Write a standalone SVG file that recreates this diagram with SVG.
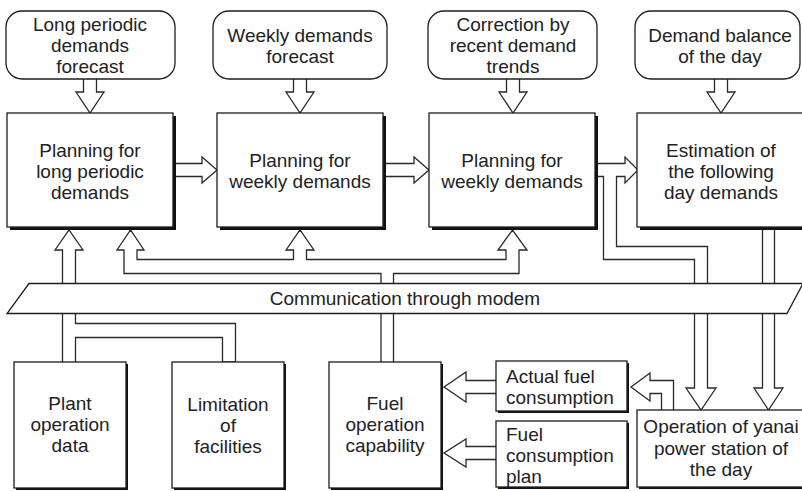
<svg xmlns="http://www.w3.org/2000/svg" width="802" height="491" viewBox="0 0 802 491">
<style>
.bg{fill:#ffffff}
.pipe{fill:#ffffff;stroke:#2a2a2a;stroke-width:1.3;stroke-linejoin:miter}
.box{fill:#ffffff;stroke:#1e1e1e;stroke-width:1.3}
.sh{fill:#111111}
.rbox{fill:#ffffff;stroke:#1e1e1e;stroke-width:1.3}
text{font-family:"Liberation Sans",Arial,sans-serif;font-size:19px;fill:#222222}
.c{text-anchor:middle}
</style>
<rect class="bg" x="0" y="0" width="802" height="491"/>

<g id="connectors">
  <!-- forecast arrows -->
  <path class="pipe" d="M83.5,79 V92 H76 L90,113 L104,92 H96.5 V79"/>
  <path class="pipe" d="M293.5,79 V92 H286 L300,113 L314,92 H306.5 V79"/>
  <path class="pipe" d="M506.5,79 V92 H499 L513,113 L527,92 H519.5 V79"/>
  <path class="pipe" d="M714.5,79 V92 H707 L721,113 L735,92 H727.5 V79"/>
  <!-- horizontal arrows between planning boxes -->
  <path class="pipe" d="M175,163.5 H202 V157 L217,170 L202,183 V176.5 H175"/>
  <path class="pipe" d="M386,163.5 H414 V157 L429,170 L414,183 V176.5 H386"/>
  <!-- box3 to box4 with branch down to operation -->
  <path class="pipe" d="M598,176.5 H603.5 V259.5 H694.5 V388 H686 L701,410 L716,388 H707.5 V246.5 H616.5 V176.5 H625 V183 L638,170 L625,157 V163.5 H598"/>
  <!-- box4 to operation -->
  <path class="pipe" d="M762.5,230 V388 H754 L768.5,410 L783,388 H774.5 V230"/>
  <!-- operation to actual fuel consumption -->
  <path class="pipe" d="M661.5,410 V393.5 H650 V401 L631,387 L650,373 V380.5 H673.5 V410"/>
  <!-- actual -> fuel -->
  <path class="pipe" d="M496,380.5 H466 V372 L444,387 L466,402 V393.5 H496"/>
  <!-- plan -> fuel -->
  <path class="pipe" d="M496,446.5 H466 V439 L444,453 L466,467 V459.5 H496"/>
  <!-- plant + limitation -> box1 -->
  <path class="pipe" d="M62.5,362 V250 H55 L69,230 L83,250 H75.5 V323.5 H235.5 V362 H222.5 V337.5 H75.5 V362"/>
  <!-- fuel capability -> boxes 1,2,3 -->
  <path class="pipe" d="M381,362 V273.5 H124 V250 H117 L130.5,230 L144,250 H137 V259.5 H293.5 V250 H286 L300,230 L314,250 H306.5 V259.5 H506 V250 H498 L512.5,230 L527,250 H519 V273.5 H393.5 V362"/>
</g>

<g id="modem">
  <polygon class="box" points="29,283.5 803,283.5 787,313.5 7,313.5"/>
  <text class="c" x="405" y="305">Communication through modem</text>
</g>

<g id="f1">
  <rect class="rbox" x="6" y="11" width="169" height="68" rx="16" ry="16"/>
  <text class="c" x="90" y="31">Long periodic</text>
  <text class="c" x="90" y="52">demands</text>
  <text class="c" x="90" y="73">forecast</text>
</g>
<g id="f2">
  <rect class="rbox" x="213" y="11" width="174" height="68" rx="16" ry="16"/>
  <text class="c" x="300" y="42">Weekly demands</text>
  <text class="c" x="300" y="63">forecast</text>
</g>
<g id="f3">
  <rect class="rbox" x="428" y="11" width="169" height="68" rx="16" ry="16"/>
  <text class="c" x="513" y="31">Correction by</text>
  <text class="c" x="513" y="52">recent demand</text>
  <text class="c" x="513" y="73">trends</text>
</g>
<g id="f4">
  <rect class="rbox" x="635" y="11" width="165" height="68" rx="16" ry="16"/>
  <text class="c" x="720" y="42">Demand balance</text>
  <text class="c" x="720" y="63">of the day</text>
</g>

<g id="b1">
  <rect class="sh" x="10" y="116" width="166" height="114"/>
  <rect class="box" x="7" y="113" width="166" height="114"/>
  <text class="c" x="90" y="157">Planning for</text>
  <text class="c" x="90" y="178">long periodic</text>
  <text class="c" x="90" y="199">demands</text>
</g>
<g id="b2">
  <rect class="sh" x="220" y="116" width="166" height="114"/>
  <rect class="box" x="217" y="113" width="166" height="114"/>
  <text class="c" x="300" y="167">Planning for</text>
  <text class="c" x="300" y="188">weekly demands</text>
</g>
<g id="b3">
  <rect class="sh" x="432" y="116" width="166" height="114"/>
  <rect class="box" x="429" y="113" width="166" height="114"/>
  <text class="c" x="512" y="167">Planning for</text>
  <text class="c" x="512" y="188">weekly demands</text>
</g>
<g id="b4">
  <rect class="sh" x="640" y="116" width="170" height="114"/>
  <rect class="box" x="637" y="113" width="170" height="114"/>
  <text class="c" x="721" y="157">Estimation of</text>
  <text class="c" x="721" y="178">the following</text>
  <text class="c" x="721" y="199">day demands</text>
</g>

<g id="plant">
  <rect class="sh" x="16" y="364" width="112" height="126"/>
  <rect class="box" x="14" y="362" width="112" height="126"/>
  <text class="c" x="70" y="410">Plant</text>
  <text class="c" x="70" y="431">operation</text>
  <text class="c" x="70" y="452">data</text>
</g>
<g id="limitation">
  <rect class="sh" x="174" y="364" width="112" height="126"/>
  <rect class="box" x="172" y="362" width="112" height="126"/>
  <text class="c" x="228" y="411">Limitation</text>
  <text class="c" x="228" y="432">of</text>
  <text class="c" x="228" y="453">facilities</text>
</g>
<g id="fuel">
  <rect class="sh" x="331" y="364" width="112" height="126"/>
  <rect class="box" x="329" y="362" width="112" height="126"/>
  <text class="c" x="385" y="410">Fuel</text>
  <text class="c" x="385" y="431">operation</text>
  <text class="c" x="385" y="452">capability</text>
</g>
<g id="actual">
  <rect class="sh" x="498" y="363" width="131" height="50"/>
  <rect class="box" x="496" y="361" width="131" height="50"/>
  <text x="506" y="383">Actual fuel</text>
  <text x="506" y="404">consumption</text>
</g>
<g id="plan">
  <rect class="sh" x="498" y="423" width="131" height="66"/>
  <rect class="box" x="496" y="421" width="131" height="66"/>
  <text x="506" y="441">Fuel</text>
  <text x="506" y="462">consumption</text>
  <text x="506" y="483">plan</text>
</g>
<g id="operation">
  <rect class="sh" x="639" y="412" width="170" height="77"/>
  <rect class="box" x="637" y="410" width="170" height="77"/>
  <text class="c" x="721" y="433">Operation of yanai</text>
  <text class="c" x="721" y="455">power station of</text>
  <text class="c" x="721" y="476">the day</text>
</g>
</svg>
